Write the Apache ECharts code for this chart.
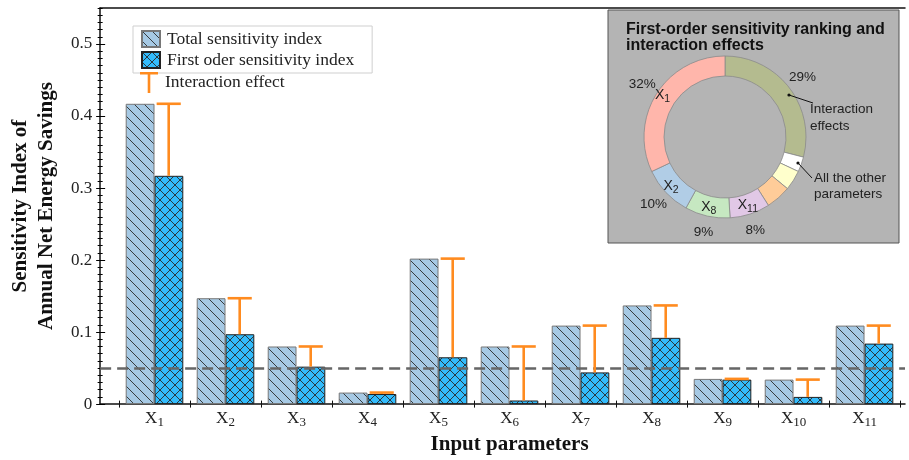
<!DOCTYPE html>
<html>
<head>
<meta charset="utf-8">
<script src="https://cdn.jsdelivr.net/npm/echarts@6.0.0/dist/echarts.min.js"></script>
<style>
  html, body { margin: 0; padding: 0; background: #fff; }
  #chartmain { width: 909px; height: 460px; }
</style>
</head>
<body>
<div id="chartmain"></div>
<script>
// data
var categories = ['X1', 'X2', 'X3', 'X4', 'X5', 'X6', 'X7', 'X8', 'X9', 'X10', 'X11'];
var totalIndex = [0.417, 0.147, 0.080, 0.016, 0.202, 0.080, 0.109, 0.137, 0.035, 0.034, 0.109];
var firstIndex = [0.317, 0.097, 0.052, 0.014, 0.065, 0.005, 0.044, 0.092, 0.034, 0.010, 0.084];
var yTicks = [0, 0.1, 0.2, 0.3, 0.4, 0.5];
var threshold = 0.05;

// inset donut, clockwise from 12 o'clock
var pieNames = ['Interaction effects', 'Other 1', 'Other 2', 'Other 3', 'X11', 'X8', 'X2', 'X1'];
var pieValues = [29, 3, 4, 5, 8, 9, 10, 32];
var pieShowName = [false, false, false, false, true, true, true, true];
var pieShowPct = [true, false, false, false, true, true, true, true];
var pieColors = ['#b4bb8f', '#ffffff', '#ffffcc', '#ffcc99', '#e1c8e6', '#c6e8c1', '#b1cde6', '#ffb6ab'];

var serif = 'Liberation Serif';
var sans = 'Liberation Sans';
var orange = '#ff8b1f';

// "X11" -> X with subscript 11
function sub(name) {
  return '{m|' + name.charAt(0) + '}{s|' + name.slice(1) + '}';
}
function subRich(family, big, small, off) {
  return {
    m: { fontFamily: family, fontSize: big, color: '#222', padding: [0, 0, off, 0] },
    s: { fontFamily: family, fontSize: small, color: '#222', padding: [off, 0, 0, 0] }
  };
}

function hatch(bg, cross) {
  var s = 10, c = document.createElement('canvas');
  c.width = s; c.height = s;
  var g = c.getContext('2d');
  g.fillStyle = bg; g.fillRect(0, 0, s, s);
  g.strokeStyle = '#2a2a2a'; g.lineWidth = 0.9;
  g.beginPath();
  [-s, 0, s].forEach(function (k) {
    g.moveTo(k, 0); g.lineTo(k + s, s);
    if (cross) { g.moveTo(k + s, 0); g.lineTo(k, s); }
  });
  g.stroke();
  return { image: c, repeat: 'repeat' };
}

var catPos = categories.map(function (c, i) { return i + 1; });
var bounds = [0].concat(catPos).map(function (v) { return v + 0.5; });
var xMin = 0.2345, xMax = 11.57;

var minorAxis = function (inside) {
  return {
    type: 'value', min: 0, max: 0.55, interval: 0.01, position: 'left',
    axisLine: { show: false }, axisLabel: { show: false }, splitLine: { show: false },
    axisTick: { inside: inside, length: 2.5, lineStyle: { color: '#000', width: 1 } }
  };
};

var ring = function (radius, withColor) {
  return {
    type: 'pie', silent: true, z: 3,
    center: [725, 137], radius: radius, startAngle: 90, clockwise: true,
    avoidLabelOverlap: false, minShowLabelAngle: 0,
    labelLayout: { hideOverlap: false },
    labelLine: { show: false },
    data: pieNames.map(function (n, i) {
      return { name: n, value: pieValues[i], itemStyle: { color: withColor ? pieColors[i] : 'rgba(0,0,0,0)' } };
    })
  };
};

var innerRing = ring([61, 81], true);
innerRing.itemStyle = { borderColor: '#8a8a8a', borderWidth: 0.8 };
innerRing.label = { show: false };

var nameRing = ring([61, 81], false);
nameRing.z = 4;
nameRing.label = {
  position: 'inside',
  formatter: function (p) { return pieShowName[p.dataIndex] ? sub(pieNames[p.dataIndex]) : ''; },
  rich: subRich(sans, 14, 10.5, 4)
};

var pctRing = ring([81, 109], false);
pctRing.label = {
  position: 'inside', fontFamily: sans, fontSize: 13.5, color: '#222',
  formatter: function (p) { return pieShowPct[p.dataIndex] ? pieValues[p.dataIndex] + '%' : ''; }
};

var option = {
  animation: false,
  grid: { left: 94, right: 4, top: 8, bottom: 55 },
  legend: [{
    orient: 'vertical', left: 133, top: 26,
    data: ['Total sensitivity index', 'First oder sensitivity index'],
    icon: 'rect', itemWidth: 18, itemHeight: 16, itemGap: 3,
    padding: [4, 18, 4, 8], borderColor: '#cfcfcf', borderWidth: 1,
    backgroundColor: '#fff',
    textStyle: { fontFamily: serif, fontSize: 17.5, color: '#222', padding: [0, 0, 0, 2] }
  }, {
    orient: 'vertical', left: 140, top: 72,
    data: [{ name: 'Interaction effect', icon: 'path://M0,0H18V2.6H10.3V21H7.7V2.6H0Z' }],
    itemWidth: 18, itemHeight: 21, padding: 0,
    textStyle: { fontFamily: serif, fontSize: 17.5, color: '#222', padding: [0, 0, 0, 2] }
  }],
  xAxis: [{
    type: 'value', min: xMin, max: xMax, position: 'bottom',
    name: 'Input parameters', nameLocation: 'middle', nameGap: 29,
    nameTextStyle: { fontFamily: serif, fontWeight: 'bold', fontSize: 21, color: '#111', padding: [0, 0, 0, 14] },
    axisLine: { onZero: false, lineStyle: { color: '#111', width: 1.5 } },
    axisTick: { customValues: bounds, length: 3.5, lineStyle: { color: '#111', width: 1 } },
    axisLabel: {
      customValues: catPos, margin: 6,
      formatter: function (v) { return sub(categories[Math.round(v) - 1] || ''); },
      rich: subRich(serif, 17, 13, 4)
    },
    splitLine: { show: false }
  }, {
    type: 'value', min: xMin, max: xMax, position: 'bottom',
    axisLine: { show: false }, axisLabel: { show: false }, splitLine: { show: false },
    axisTick: { customValues: bounds, inside: true, length: 3.5, lineStyle: { color: '#111', width: 1 } }
  }, {
    type: 'value', min: xMin, max: xMax, position: 'top',
    axisLine: { show: true, onZero: false, lineStyle: { color: '#111', width: 1.5 } },
    axisTick: { show: false }, axisLabel: { show: false }, splitLine: { show: false }
  }],
  yAxis: [{
    type: 'value', min: 0, max: 0.55, interval: 0.1, position: 'left',
    name: 'Sensitivity Index of\nAnnual Net Energy Savings',
    nameLocation: 'middle', nameGap: 38, nameRotate: 90,
    nameTextStyle: { fontFamily: serif, fontWeight: 'bold', fontSize: 21, color: '#111', lineHeight: 26 },
    axisLine: { show: true, lineStyle: { color: '#111', width: 1.5 } },
    axisTick: { customValues: yTicks, length: 4, lineStyle: { color: '#000', width: 1 } },
    axisLabel: { customValues: yTicks, margin: 8, fontFamily: serif, fontSize: 17, color: '#222' },
    splitLine: { show: false }
  }, minorAxis(false), minorAxis(true), {
    type: 'value', min: 0, max: 0.55, interval: 0.1, position: 'left',
    axisLine: { show: false }, axisLabel: { show: false }, splitLine: { show: false },
    axisTick: { customValues: yTicks, inside: true, length: 5, lineStyle: { color: '#000', width: 1 } }
  }],
  series: [{
    name: 'Total sensitivity index', type: 'bar',
    barWidth: 28.8, barGap: '0%',
    itemStyle: { color: hatch('#a6c9e4', false), borderColor: '#777', borderWidth: 1 },
    data: totalIndex.map(function (v, i) { return [catPos[i], v]; })
  }, {
    name: 'First oder sensitivity index', type: 'bar',
    barWidth: 28.8, barGap: '0%',
    itemStyle: { color: hatch('#33bbfb', true), borderColor: '#222', borderWidth: 1 },
    data: firstIndex.map(function (v, i) { return [catPos[i], v]; })
  }, {
    name: 'Interaction effect', type: 'custom', z: 5,
    itemStyle: { color: orange },
    data: totalIndex.map(function (v, i) { return [catPos[i], firstIndex[i], v]; }),
    renderItem: function (params, api) {
      var band = api.size([1, 0])[0];
      var x = api.coord([api.value(0), 0])[0] + band * 0.2;
      var yLo = api.coord([api.value(0), api.value(1)])[1];
      var yHi = api.coord([api.value(0), api.value(2)])[1];
      var half = band * 0.17;
      var st = { stroke: orange, lineWidth: 2.6 };
      return {
        type: 'group',
        children: [
          { type: 'line', shape: { x1: x, y1: yLo, x2: x, y2: yHi }, style: st },
          { type: 'line', shape: { x1: x - half, y1: yHi, x2: x + half, y2: yHi }, style: st }
        ]
      };
    },
    markLine: {
      silent: true, symbol: 'none', label: { show: false },
      lineStyle: { color: '#666', width: 2.5, type: [11, 6] },
      data: [{ yAxis: threshold }]
    }
  }, innerRing, nameRing, pctRing],
  graphic: [
    { type: 'rect', z: 1, shape: { x: 608, y: 10, width: 291, height: 233 },
      style: { fill: '#b4b4b4', stroke: '#555', lineWidth: 1 } },
    { type: 'text', z: 10, x: 626, y: 21,
      style: { text: 'First-order sensitivity ranking and\ninteraction effects', fill: '#111',
        font: 'bold 16px "Liberation Sans"', lineHeight: 16.5 } },
    { type: 'polyline', z: 10, shape: { points: [[789, 95], [813, 103]] }, style: { stroke: '#111', lineWidth: 1 } },
    { type: 'circle', z: 10, shape: { cx: 789, cy: 95, r: 1.6 }, style: { fill: '#111' } },
    { type: 'text', z: 10, x: 810, y: 101,
      style: { text: 'Interaction\neffects', fill: '#222', font: '13.5px "Liberation Sans"', lineHeight: 16.7 } },
    { type: 'polyline', z: 10, shape: { points: [[798, 163], [812, 178]] }, style: { stroke: '#111', lineWidth: 1 } },
    { type: 'circle', z: 10, shape: { cx: 798, cy: 163, r: 1.6 }, style: { fill: '#111' } },
    { type: 'text', z: 10, x: 814, y: 171,
      style: { text: 'All the other\nparameters', fill: '#222', font: '13.5px "Liberation Sans"', lineHeight: 15.5 } }
  ]
};

var myChart = echarts.init(document.getElementById('chartmain'));
myChart.setOption(option);
</script>
</body>
</html>
